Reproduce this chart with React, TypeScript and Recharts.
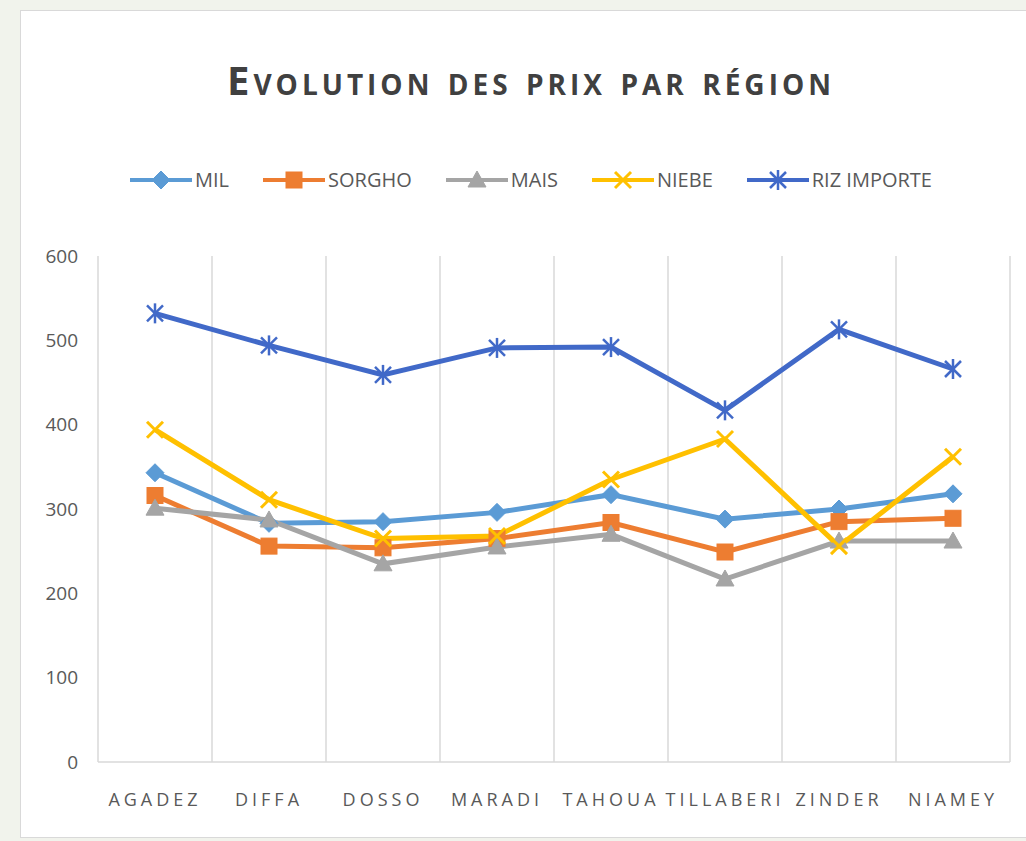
import { LineChart, Line, XAxis, YAxis, CartesianGrid, Legend } from 'recharts'

const REGIONS = ['AGADEZ', 'DIFFA', 'DOSSO', 'MARADI', 'TAHOUA', 'TILLABERI', 'ZINDER', 'NIAMEY']
const MIL = [343, 283, 285, 296, 317, 288, 300, 318]
const SORGHO = [316, 256, 254, 265, 284, 249, 285, 289]
const MAIS = [301, 287, 235, 255, 270, 217, 262, 262]
const NIEBE = [394, 311, 265, 268, 335, 383, 256, 362]
const RIZ = [532, 494, 459, 491, 492, 417, 513, 466]
const Y_TICKS = [0, 100, 200, 300, 400, 500, 600]

const SERIES = [
  { key: 'mil', name: 'MIL', color: '#5B9BD5', shape: 'diamond', values: MIL },
  { key: 'sorgho', name: 'SORGHO', color: '#ED7D31', shape: 'square', values: SORGHO },
  { key: 'mais', name: 'MAIS', color: '#A5A5A5', shape: 'triangle', values: MAIS },
  { key: 'niebe', name: 'NIEBE', color: '#FFC000', shape: 'x', values: NIEBE },
  { key: 'riz', name: 'RIZ IMPORTE', color: '#4169C8', shape: 'star', values: RIZ },
]

const data = REGIONS.map((region, i) => {
  const row: any = { region }
  SERIES.forEach(s => { row[s.key] = s.values[i] })
  return row
})

function Marker({ shape, cx, cy, color }: { shape: string, cx: number, cy: number, color: string }) {
  if (cx == null || cy == null) return null
  if (shape === 'diamond') {
    const s = 9
    return <polygon points={`${cx},${cy - s} ${cx + s},${cy} ${cx},${cy + s} ${cx - s},${cy}`} fill={color} stroke={color} />
  }
  if (shape === 'square') {
    return <rect x={cx - 8} y={cy - 8} width={16} height={16} fill={color} stroke={color} />
  }
  if (shape === 'triangle') {
    return <polygon points={`${cx},${cy - 9} ${cx + 9},${cy + 7} ${cx - 9},${cy + 7}`} fill={color} stroke={color} />
  }
  if (shape === 'x') {
    const s = 8
    return (
      <g stroke={color} strokeWidth={3}>
        <line x1={cx - s} y1={cy - s} x2={cx + s} y2={cy + s} />
        <line x1={cx - s} y1={cy + s} x2={cx + s} y2={cy - s} />
      </g>
    )
  }
  const s = 8
  return (
    <g stroke={color} strokeWidth={2.5}>
      <line x1={cx - s} y1={cy - s} x2={cx + s} y2={cy + s} />
      <line x1={cx - s} y1={cy + s} x2={cx + s} y2={cy - s} />
      <line x1={cx} y1={cy - s - 2} x2={cx} y2={cy + s + 2} />
    </g>
  )
}

function LegendContent() {
  return (
    <div style={{ display: 'flex', justifyContent: 'center', gap: 34, fontFamily: "'Open Sans', sans-serif", fontSize: 20, color: '#595959' }}>
      {SERIES.map(s => (
        <div key={s.key} style={{ display: 'flex', alignItems: 'center' }}>
          <svg width={62} height={24}>
            <line x1={0} y1={12} x2={62} y2={12} stroke={s.color} strokeWidth={4} />
            <Marker shape={s.shape} cx={31} cy={12} color={s.color} />
          </svg>
          <span style={{ marginLeft: 3 }}>{s.name}</span>
        </div>
      ))}
    </div>
  )
}

export default function App() {
  return (
    <div style={{ position: 'absolute', left: 0, top: 0, width: 1026, height: 841, background: '#f1f3ec', overflow: 'hidden' }}>
      <div style={{ position: 'absolute', left: 20, top: 10, width: 1010, height: 828, background: '#fff', border: '1px solid #d9d9d9', boxSizing: 'border-box' }} />
      <div style={{ position: 'absolute', left: 0, top: 52, width: 1062, textAlign: 'center', fontFamily: "'Open Sans', sans-serif", fontWeight: 700, fontSize: 40, fontVariant: 'small-caps', color: '#404040', letterSpacing: 4 }}>
        Evolution des prix par région
      </div>
      <div style={{ position: 'absolute', left: 0, top: 0 }}>
        <LineChart width={1026} height={841} data={data} margin={{ top: 229, right: 16, bottom: 29, left: 40 }}>
          <CartesianGrid
            horizontal={false}
            stroke="#d9d9d9"
            strokeWidth={1.5}
            verticalCoordinatesGenerator={({ offset }: any) =>
              REGIONS.map((_, i) => offset.left + (i * offset.width) / REGIONS.length).concat(offset.left + offset.width)
            }
          />
          <XAxis
            dataKey="region"
            scale="band"
            axisLine={{ stroke: '#d9d9d9', strokeWidth: 1.5 }}
            tickLine={false}
            tickMargin={25}
            height={50}
            interval={0}
            tick={{ fill: '#595959', fontSize: 18, fontFamily: "'Open Sans', sans-serif", letterSpacing: 4 }}
          />
          <YAxis
            domain={[0, 600]}
            ticks={Y_TICKS}
            width={58}
            axisLine={false}
            tickLine={false}
            tickMargin={14}
            tick={{ fill: '#595959', fontSize: 19, fontFamily: "'Open Sans', sans-serif" }}
          />
          <Legend content={<LegendContent />} verticalAlign="top" wrapperStyle={{ top: 166, left: 0, width: 1062 }} />
          {SERIES.map(s => (
            <Line
              key={s.key}
              dataKey={s.key}
              name={s.name}
              stroke={s.color}
              strokeWidth={5}
              isAnimationActive={false}
              dot={(p: any) => <Marker key={`${s.key}-${p.index}`} shape={s.shape} cx={p.cx} cy={p.cy} color={s.color} />}
              activeDot={false}
            />
          ))}
        </LineChart>
      </div>
    </div>
  )
}
